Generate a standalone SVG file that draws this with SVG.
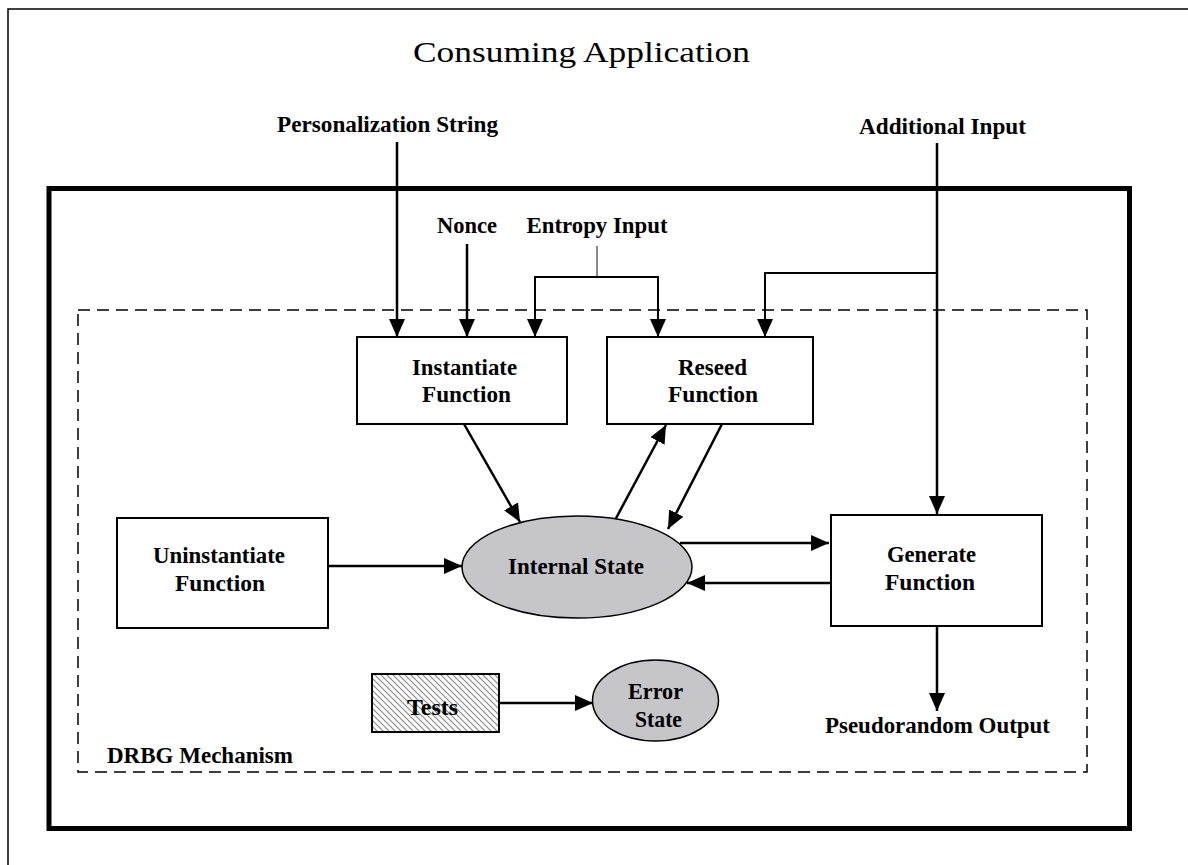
<svg xmlns="http://www.w3.org/2000/svg" width="1188" height="865" viewBox="0 0 1188 865">
<defs>
<style>
.lbl{font-family:"Liberation Serif","Times New Roman",serif;font-weight:bold;font-size:23px;fill:#000;text-anchor:middle}
.title{font-family:"Liberation Serif","Times New Roman",serif;font-size:29px;fill:#000;text-anchor:middle}
.box{fill:#fff;stroke:#000;stroke-width:2}
.ell{fill:#c6c5ca;stroke:#000;stroke-width:1.5}
.con{fill:none;stroke:#000;stroke-width:2.5}
.thin{fill:none;stroke:#000;stroke-width:2}
</style>
<marker id="ah" markerUnits="userSpaceOnUse" markerWidth="19" markerHeight="17" refX="18" refY="8" orient="auto">
<path d="M0,0 L18,8 L0,16 z" fill="#000"/>
</marker>
<pattern id="hatch" patternUnits="userSpaceOnUse" width="6" height="6">
<rect width="6" height="6" fill="#fff"/>
<path d="M0,0 L6,6 M-1,5 L1,7 M5,-1 L7,1" stroke="#888" stroke-width="1.1"/>
</pattern>
</defs>
<rect width="1188" height="865" fill="#fff"/>
<rect x="8" y="9" width="1220" height="900" fill="none" stroke="#000" stroke-width="1.5"/>
<text class="title" x="581.5" y="62" textLength="337" lengthAdjust="spacingAndGlyphs">Consuming Application</text>
<g id="drbg-boundary">
<rect x="49" y="188.5" width="1080.5" height="640" fill="none" stroke="#000" stroke-width="5"/>
</g>
<g id="drbg-mechanism">
<rect x="78" y="310" width="1009" height="462" fill="none" stroke="#000" stroke-width="1.5" stroke-dasharray="12,7"/>
<text class="lbl" x="200" y="763" textLength="186" lengthAdjust="spacingAndGlyphs">DRBG Mechanism</text>
</g>
<g id="input-labels">
<text class="lbl" x="387.5" y="132" textLength="221" lengthAdjust="spacingAndGlyphs">Personalization String</text>
<text class="lbl" x="942.5" y="134" textLength="167" lengthAdjust="spacingAndGlyphs">Additional Input</text>
<text class="lbl" x="467" y="233" textLength="60" lengthAdjust="spacingAndGlyphs">Nonce</text>
<text class="lbl" x="597" y="233" textLength="141" lengthAdjust="spacingAndGlyphs">Entropy Input</text>
<text class="lbl" x="937.5" y="733" textLength="225" lengthAdjust="spacingAndGlyphs">Pseudorandom Output</text>
</g>
<g id="connectors">
<line class="con" x1="397" y1="142" x2="397" y2="337" marker-end="url(#ah)"/>
<line class="con" x1="467" y1="244" x2="467" y2="337" marker-end="url(#ah)"/>
<line x1="597" y1="246" x2="597" y2="277" stroke="#888" stroke-width="2"/>
<polyline class="thin" points="535,337 535,277 658,277 658,337" marker-end="url(#ah)"/>
<line class="thin" x1="535" y1="290" x2="535" y2="337" marker-end="url(#ah)"/>
<line class="con" x1="937" y1="143" x2="937" y2="514" marker-end="url(#ah)"/>
<polyline class="thin" points="937,273 765,273 765,337" marker-end="url(#ah)"/>
<line class="con" x1="464" y1="424" x2="520" y2="522" marker-end="url(#ah)"/>
<line class="con" x1="614" y1="522" x2="666" y2="425" marker-end="url(#ah)"/>
<line class="con" x1="722" y1="424" x2="668" y2="529" marker-end="url(#ah)"/>
<line class="con" x1="328" y1="566" x2="462" y2="566" marker-end="url(#ah)"/>
<line class="con" x1="680" y1="543" x2="829" y2="543" marker-end="url(#ah)"/>
<line class="con" x1="831" y1="583" x2="687" y2="583" marker-end="url(#ah)"/>
<line class="con" x1="937" y1="626" x2="937" y2="711" marker-end="url(#ah)"/>
<line class="con" x1="499" y1="703" x2="593" y2="703" marker-end="url(#ah)"/>
</g>
<g id="instantiate">
<rect class="box" x="357" y="337" width="210" height="87"/>
<text class="lbl" x="464.5" y="375" textLength="105" lengthAdjust="spacingAndGlyphs">Instantiate</text>
<text class="lbl" x="466.5" y="402" textLength="89" lengthAdjust="spacingAndGlyphs">Function</text>
</g>
<g id="reseed">
<rect class="box" x="607" y="337" width="206" height="87"/>
<text class="lbl" x="712.5" y="375" textLength="69" lengthAdjust="spacingAndGlyphs">Reseed</text>
<text class="lbl" x="713" y="402" textLength="90" lengthAdjust="spacingAndGlyphs">Function</text>
</g>
<g id="uninstantiate">
<rect class="box" x="117" y="518" width="211" height="110"/>
<text class="lbl" x="219" y="563" textLength="132" lengthAdjust="spacingAndGlyphs">Uninstantiate</text>
<text class="lbl" x="220" y="591" textLength="90" lengthAdjust="spacingAndGlyphs">Function</text>
</g>
<g id="internal-state">
<ellipse class="ell" cx="577" cy="567" rx="115" ry="51"/>
<text class="lbl" x="576" y="574" textLength="136" lengthAdjust="spacingAndGlyphs">Internal State</text>
</g>
<g id="generate">
<rect class="box" x="831" y="515" width="211" height="111"/>
<text class="lbl" x="931.5" y="562" textLength="89" lengthAdjust="spacingAndGlyphs">Generate</text>
<text class="lbl" x="930" y="590" textLength="90" lengthAdjust="spacingAndGlyphs">Function</text>
</g>
<g id="tests">
<rect x="372" y="674" width="127" height="58" fill="url(#hatch)" stroke="#000" stroke-width="2"/>
<text class="lbl" x="432.5" y="715" textLength="51" lengthAdjust="spacingAndGlyphs">Tests</text>
</g>
<g id="error-state">
<ellipse class="ell" cx="655.5" cy="700.5" rx="63" ry="40.5"/>
<text class="lbl" x="655.5" y="699" textLength="55" lengthAdjust="spacingAndGlyphs">Error</text>
<text class="lbl" x="658.5" y="727" textLength="47" lengthAdjust="spacingAndGlyphs">State</text>
</g>
</svg>
